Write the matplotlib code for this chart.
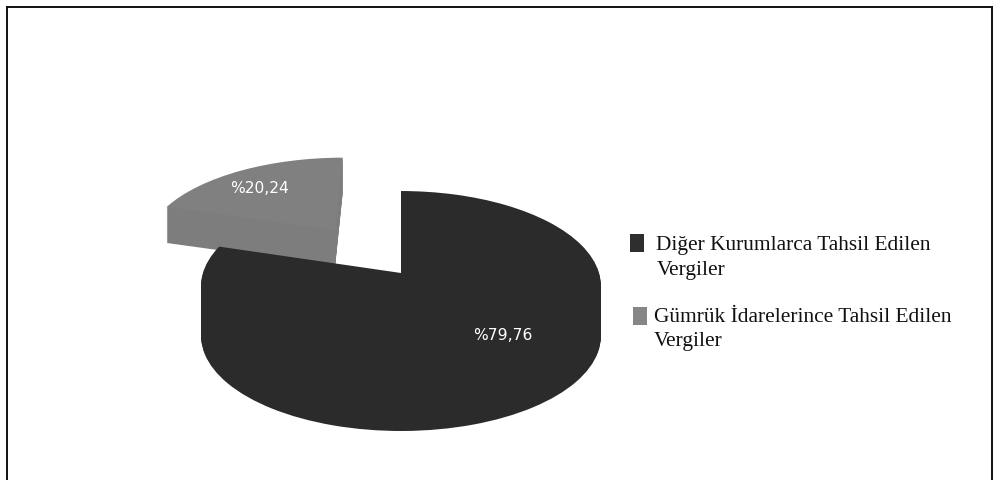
import matplotlib
matplotlib.use("Agg")
import matplotlib.pyplot as plt
from matplotlib.patches import Rectangle
from matplotlib.transforms import Affine2D, Transform

# Chart data
categories = ["Diğer Kurumlarca Tahsil Edilen\nVergiler",
              "Gümrük İdarelerince Tahsil Edilen\nVergiler"]
values = [79.76, 20.24]
value_labels = ["%79,76", "%20,24"]

TOP_COLORS = ["#2b2b2b", "#808080"]
SIDE_COLORS = ["#2b2b2b", "#7d7d7d"]
KEY_COLORS = ["#2e2e2e", "#868686"]

W, H = 995, 481


class Tilt(Transform):
    # unit pie -> pixel position, tilted with a bit of perspective
    input_dims = 2
    output_dims = 2
    is_separable = False

    def __init__(self, cx, cy, a, b, k):
        super().__init__()
        self.cx, self.cy, self.a, self.b, self.k = cx, cy, a, b, k

    def transform_non_affine(self, xy):
        out = xy.copy()
        d = 1 + self.k * xy[:, 1]
        out[:, 0] = self.cx + self.a * xy[:, 0] / d
        out[:, 1] = self.cy - self.b * xy[:, 1] / d
        return out


fig = plt.figure(figsize=(W / 100, H / 100), dpi=100)
# axes box is the drawn frame, data units are pixels of the image
left, right, top = 7.5, 992.5, 7.5
ax = fig.add_axes([left / W, 0, (right - left) / W, 1 - top / H])

tilt = Tilt(401, 274, 198, 93.2, 0.137)
depths = [50, 36]
gray_center = (-0.355, 0.49)

# gray slice first so the dark one sits over it
for slice_no in [1, 0]:
    for d in range(depths[slice_no], -1, -1):
        colors = [SIDE_COLORS[i] if d > 0 else TOP_COLORS[i] for i in range(2)]
        wedges, _ = ax.pie(values, colors=colors, startangle=90, counterclock=False,
                           frame=True, wedgeprops={"linewidth": 0})
        wedges[1 - slice_no].remove()
        w = wedges[slice_no]
        if slice_no == 1:
            w.set_center(gray_center)
        w.set_transform(tilt + Affine2D().translate(0, d) + ax.transData)
        w.set_zorder(2 + slice_no * -1)

ax.set_aspect("auto")
ax.set_xlim(left, right)
ax.set_ylim(H, top)
ax.set_xticks([])
ax.set_yticks([])
ax.spines["bottom"].set_visible(False)
for s in ["left", "right", "top"]:
    ax.spines[s].set_linewidth(1.4)
    ax.spines[s].set_color("#111111")

# value labels
ax.text(503, 335, value_labels[0], color="white", fontsize=11.2, ha="center", va="center",
        family="DejaVu Sans", zorder=5)
ax.text(260, 188, value_labels[1], color="white", fontsize=11.2, ha="center", va="center",
        family="DejaVu Sans", zorder=5)

# legend, the two rows are not quite aligned in the original
key_boxes = [(630.5, 234.5, 14, 18), (633.5, 307.5, 14, 18)]
text_pos = [(656.5, 258), (654, 329.5)]
for i in range(2):
    x, y, kw, kh = key_boxes[i]
    ax.add_patch(Rectangle((x, y), kw, kh, facecolor=KEY_COLORS[i], edgecolor="none", zorder=5))
    ax.text(text_pos[i][0], text_pos[i][1], categories[i], fontsize=15.4, family="Liberation Serif",
            color="#111111", ha="left", va="center", linespacing=1.37, zorder=5)

fig.savefig("out.png", dpi=100, facecolor="white")
